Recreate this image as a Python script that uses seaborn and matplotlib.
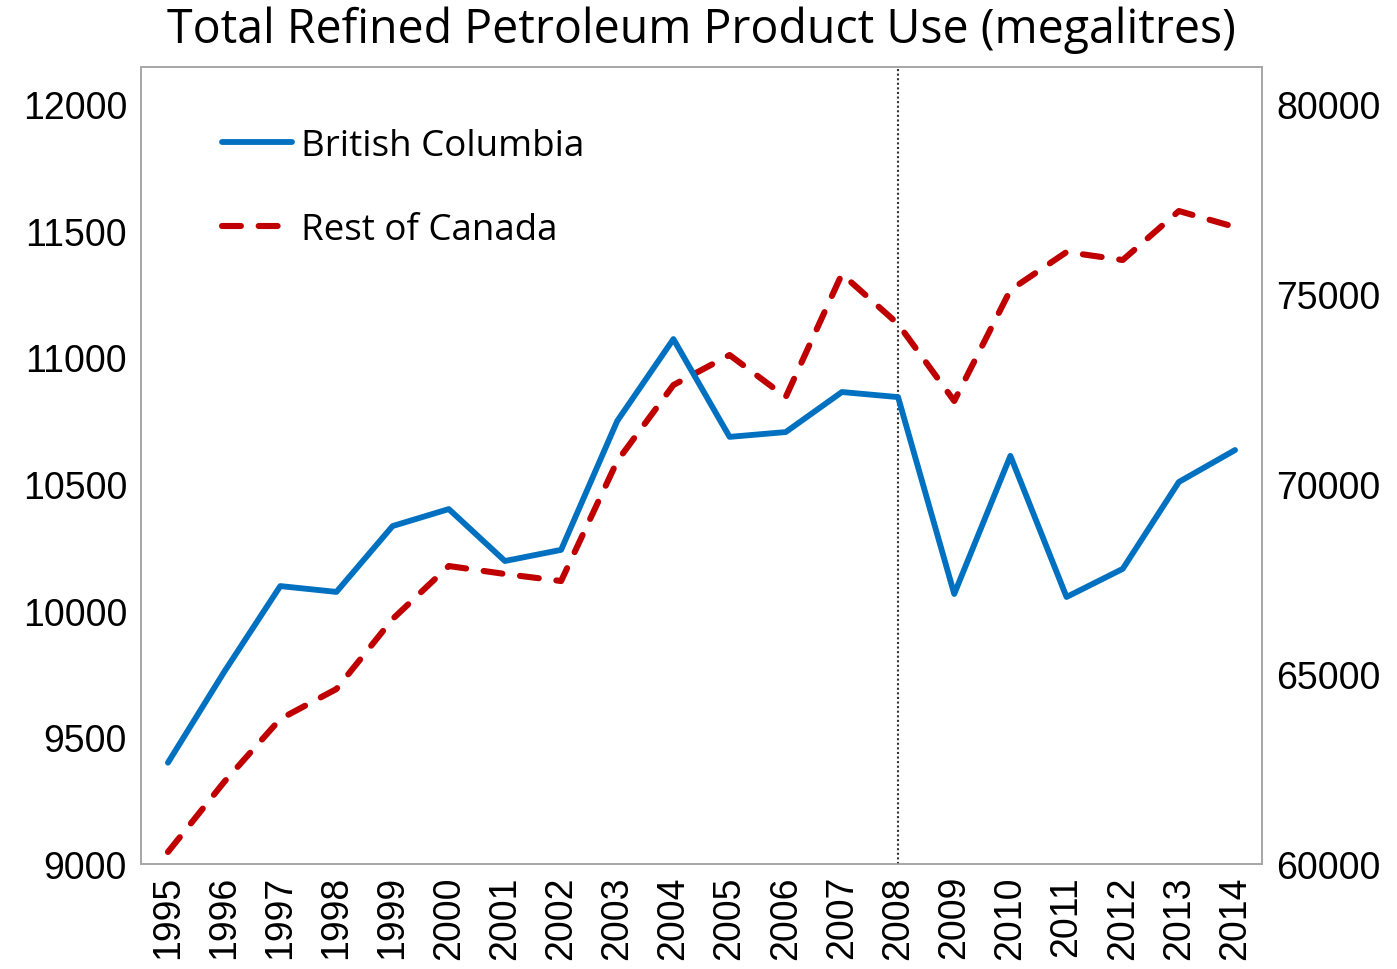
import numpy as np
import pandas as pd
import seaborn as sns
import matplotlib.pyplot as plt

years = list(range(1995, 2015))
bc_use = [9400, 9758, 10097, 10074, 10334, 10401, 10196, 10240, 10749, 11072,
          10686, 10705, 10863, 10843, 10066, 10611, 10054, 10165, 10508, 10634]
roc_use = [60316, 62158, 63816, 64605, 66447, 67842, 67632, 67447, 70605, 72605,
           73395, 72289, 75526, 74211, 72184, 75105, 76105, 75895, 77184, 76763]
left_ticks = [9000, 9500, 10000, 10500, 11000, 11500, 12000]
right_ticks = [60000, 65000, 70000, 75000, 80000]

df = pd.DataFrame({'year': years, 'bc': bc_use, 'roc': roc_use})

sns.set_style('white')
plt.rcParams['font.family'] = ['Liberation Sans', 'DejaVu Sans']
plt.rcParams['text.color'] = 'black'
plt.rcParams['xtick.color'] = 'black'
plt.rcParams['ytick.color'] = 'black'

fig = plt.figure(figsize=(13.97, 9.70), dpi=100)
ax = fig.add_axes([141 / 1397, 1 - 865 / 970, (1262 - 141) / 1397, (865 - 68) / 970])
ax2 = ax.twinx()

blue = '#0070C0'
red = '#C00000'

sns.lineplot(data=df, x='year', y='bc', ax=ax, color=blue, linewidth=4.2,
             label='British Columbia', legend=False)
sns.lineplot(data=df, x='year', y='roc', ax=ax2, color=red, linewidth=4.4,
             label='Rest of Canada', legend=False)
ax2.lines[0].set_dashes([3.1, 2.9])
ax2.lines[0].set_dash_capstyle('round')

ax.axvline(2008, color='#333333', linestyle=(0, (1, 1.2)), linewidth=1.5, zorder=0)

ax.set_xlim(1994.52, 2014.48)
ax.set_ylim(9000, 12146)
ax2.set_ylim(60000, 80974)
ax.set_xticks(years)
ax.set_xticklabels([str(y) for y in years], rotation=90, fontsize=27)
ax.set_yticks(left_ticks)
ax.set_yticklabels([str(v) for v in left_ticks], fontsize=27)
ax2.set_yticks(right_ticks)
ax2.set_yticklabels([str(v) for v in right_ticks], fontsize=27)
ax.tick_params(axis='y', length=0, pad=10)
ax.tick_params(axis='x', length=0, pad=8)
ax2.tick_params(length=0, pad=10)
ax.set_xlabel('')
ax.set_ylabel('')
ax2.set_ylabel('')

for a in (ax, ax2):
    for s in a.spines.values():
        s.set_color('#A6A6A6')
        s.set_linewidth(1.2)

h1, l1 = ax.get_legend_handles_labels()
h2, l2 = ax2.get_legend_handles_labels()
leg = ax.legend(h1 + h2, l1 + l2, loc='upper left', bbox_to_anchor=(0.0723, 0.923),
                frameon=False, borderpad=0, borderaxespad=0,
                handlelength=1.9, handletextpad=0.25, labelspacing=1.3,
                prop={'family': 'Open Sans', 'size': 26.5})
ax.set_zorder(ax2.get_zorder() + 1)
ax.patch.set_visible(False)

fig.text((165 + 1238) / 2 / 1397, 1 - 30 / 970, 'Total Refined Petroleum Product Use (megalitres)',
         ha='center', va='center', fontsize=33.5, family='Open Sans')

fig.savefig('out.png', dpi=100)
